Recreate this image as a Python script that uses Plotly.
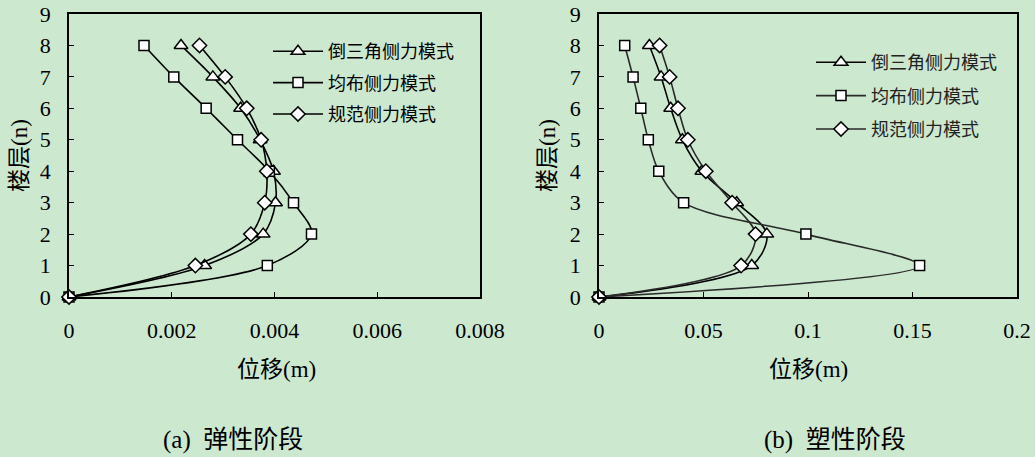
import plotly.graph_objects as go

floors = [0, 1, 2, 3, 4, 5, 6, 7, 8]

# (a) elastic stage displacement (m)
el_tri = [0, 0.00264, 0.00378, 0.00402, 0.00398, 0.00372, 0.00334, 0.00280, 0.00218]
el_sqr = [0, 0.00386, 0.00472, 0.00437, 0.00390, 0.00328, 0.00267, 0.00204, 0.00146]
el_dia = [0, 0.00246, 0.00354, 0.00381, 0.00385, 0.00374, 0.00346, 0.00304, 0.00254]

# (b) plastic stage displacement (m)
pl_tri = [0, 0.0731, 0.0803, 0.0659, 0.0492, 0.0399, 0.0343, 0.0297, 0.0241]
pl_sqr = [0, 0.1534, 0.0990, 0.0405, 0.0286, 0.0236, 0.0200, 0.0163, 0.0123]
pl_dia = [0, 0.0680, 0.0749, 0.0637, 0.0511, 0.0425, 0.0378, 0.0338, 0.0290]

series_names = ["倒三角侧力模式", "均布侧力模式", "规范侧力模式"]
symbols = ["triangle-up", "square", "diamond"]

left_ticks = [0, 0.002, 0.004, 0.006, 0.008]
left_ticktext = ["0", "0.002", "0.004", "0.006", "0.008"]
right_ticks = [0, 0.05, 0.1, 0.15, 0.2]
right_ticktext = ["0", "0.05", "0.1", "0.15", "0.2"]
y_ticks = list(range(10))

BG = "#CCE8CF"
SERIF = "Liberation Serif"
MIXED = "Liberation Serif, Noto Sans CJK SC"
CJK = "Noto Sans CJK SC"

W, H = 1035, 457

fig = go.Figure()

sizes = [12, 10, 11]
left_data = [el_tri, el_sqr, el_dia]
right_data = [pl_tri, pl_sqr, pl_dia]
right_line_colors = ["#000000", "#2a2a2a", "#2a2a2a"]

for i, (name, sym, xs) in enumerate(zip(series_names, symbols, left_data)):
    fig.add_trace(go.Scatter(
        x=xs, y=floors, name=name, mode="lines+markers", cliponaxis=False,
        line=dict(color="black", width=1.6, shape="spline", smoothing=0.9),
        marker=dict(symbol=sym, size=sizes[i], color="white",
                    line=dict(color="black", width=1.5)),
        xaxis="x", yaxis="y", legend="legend", legendgroup="L%d" % i,
    ))

for i, (name, sym, xs) in enumerate(zip(series_names, symbols, right_data)):
    fig.add_trace(go.Scatter(
        x=xs, y=floors, name=name, mode="lines+markers", cliponaxis=False,
        line=dict(color=right_line_colors[i], width=1.6, shape="spline", smoothing=0.9),
        marker=dict(symbol=sym, size=sizes[i], color="white",
                    line=dict(color="black", width=1.5)),
        xaxis="x2", yaxis="y2", legend="legend2", legendgroup="R%d" % i,
    ))

def px_x(p):
    return p / W

def px_y(p):
    return 1 - p / H

axis_common = dict(
    showline=True, linecolor="black", linewidth=1.5, mirror=True,
    ticks="inside", ticklen=5, tickwidth=1, tickcolor="black",
    showgrid=False, zeroline=False, automargin=False,
    tickfont=dict(family=SERIF, size=22, color="black"),
)

fig.update_layout(
    template="none",
    width=W, height=H,
    margin=dict(l=0, r=0, t=0, b=0, pad=0),
    paper_bgcolor=BG, plot_bgcolor=BG,
    font=dict(family=MIXED, color="black"),
    showlegend=True,
    xaxis=dict(domain=[px_x(69), px_x(480)], range=[0, 0.008], tickvals=left_ticks,
               ticktext=left_ticktext, anchor="y", ticklabelstandoff=13, **axis_common),
    yaxis=dict(domain=[px_y(297), px_y(14)], range=[0, 9], tickvals=y_ticks,
               anchor="x", ticklabelstandoff=12, **axis_common),
    xaxis2=dict(domain=[px_x(599), px_x(1017)], range=[0, 0.2], tickvals=right_ticks,
                ticktext=right_ticktext, anchor="y2", ticklabelstandoff=13, **axis_common),
    yaxis2=dict(domain=[px_y(297), px_y(14)], range=[0, 9], tickvals=y_ticks,
                anchor="x2", ticklabelstandoff=12, **axis_common),
    legend=dict(x=px_x(268), y=px_y(33), xanchor="left", yanchor="top",
                bgcolor="rgba(0,0,0,0)", borderwidth=0, tracegroupgap=5, itemwidth=50,
                font=dict(family=CJK, size=18, color="black")),
    legend2=dict(x=px_x(811), y=px_y(44), xanchor="left", yanchor="top",
                 bgcolor="rgba(0,0,0,0)", borderwidth=0, tracegroupgap=7, itemwidth=50,
                 font=dict(family=CJK, size=18, color="#222222")),
)

annotations = [
    dict(text="位移(m)", x=px_x(276), y=px_y(369)),
    dict(text="位移(m)", x=px_x(808), y=px_y(369)),
    dict(text="楼层(n)", x=px_x(20), y=px_y(156), textangle=-90),
    dict(text="楼层(n)", x=px_x(548), y=px_y(156), textangle=-90),
]
for a in annotations:
    fig.add_annotation(xref="paper", yref="paper", showarrow=False,
                       xanchor="center", yanchor="middle",
                       font=dict(family=MIXED, size=23, color="black"), **a)

fig.add_annotation(text="(a)  弹性阶段", x=px_x(233), y=px_y(440), xref="paper", yref="paper",
                   showarrow=False, xanchor="center", yanchor="middle",
                   font=dict(family=MIXED, size=25, color="black"))
fig.add_annotation(text="(b)  塑性阶段", x=px_x(835), y=px_y(440), xref="paper", yref="paper",
                   showarrow=False, xanchor="center", yanchor="middle",
                   font=dict(family=MIXED, size=25, color="black"))

fig.write_html("out.html")
